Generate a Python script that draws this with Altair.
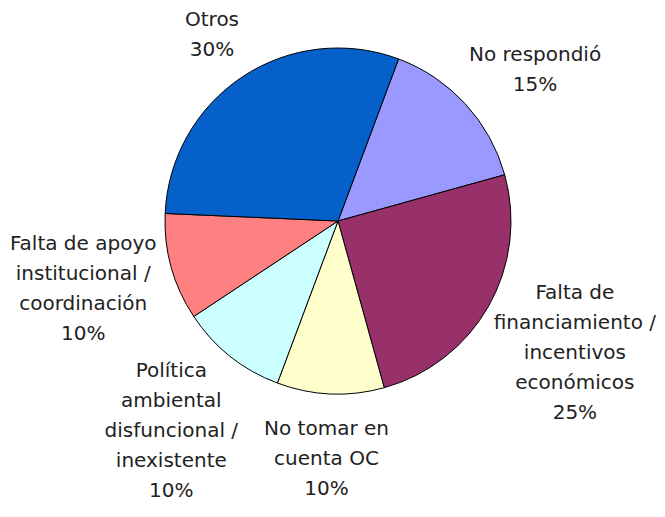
import math
import altair as alt
import pandas as pd

# ---- data ----
categories = [
    "No respondió",
    "Falta de financiamiento / incentivos económicos",
    "No tomar en cuenta OC",
    "Política ambiental disfuncional / inexistente",
    "Falta de apoyo institucional / coordinación",
    "Otros",
]
values = [15, 25, 10, 10, 10, 30]
label_lines = [
    ["No respondió"],
    ["Falta de", "financiamiento /", "incentivos", "económicos"],
    ["No tomar en", "cuenta OC"],
    ["Política", "ambiental", "disfuncional /", "inexistente"],
    ["Falta de apoyo", "institucional /", "coordinación"],
    ["Otros"],
]
colors = ["#9999FF", "#98306A", "#FFFFCC", "#CCFFFF", "#FF8080", "#0561C9"]

# ---- layout / style ----
R = 173
START = math.radians(20.5)
FONT = "DejaVu Sans"
FS = 20
LH = 30
GAP = 28                 # label distance beyond the pie edge
W, H = 600, 416          # plot area
PAD = {"left": 30, "top": 5, "right": 19, "bottom": 80}
PAGE_MARGIN = 8
CX = PAGE_MARGIN + PAD["left"] + W / 2     # pie centre on the page
CY = PAGE_MARGIN + PAD["top"] + H / 2
XMIN, XMAX = 9, 656                          # labels are kept inside the chart area

# approximate DejaVu Sans advance widths (em) for label placement
CW = {
    'a': .613, 'b': .635, 'c': .550, 'd': .635, 'e': .615, 'f': .352, 'g': .635,
    'h': .634, 'i': .278, 'j': .278, 'k': .579, 'l': .278, 'm': .974, 'n': .634,
    'o': .612, 'p': .635, 'q': .635, 'r': .411, 's': .521, 't': .392, 'u': .634,
    'v': .592, 'w': .818, 'x': .592, 'y': .592, 'z': .525, ' ': .318, '/': .337,
    '%': .950, 'F': .575, 'N': .748, 'O': .787, 'P': .603, 'C': .698, 'ó': .612,
    'í': .278,
}


def text_w(s):
    return sum(CW.get(ch, .636) for ch in s) * FS


total = sum(values)
rows = []
cum = 0
for i, (cat, v, lines) in enumerate(zip(categories, values, label_lines)):
    mid = START + 2 * math.pi * (cum + v / 2) / total
    cum += v
    all_lines = lines + [f"{v}%"]
    n = len(all_lines)
    w = max(text_w(s) for s in all_lines)
    h = (n - 1) * LH + 15
    s, c = math.sin(mid), -math.cos(mid)
    # block centre relative to the pie centre
    bx = (R + GAP) * s + (w / 2) * s
    by = (R + GAP) * c + (h / 2) * c
    # keep inside chart area horizontally
    bx = max(XMIN - CX + w / 2, min(XMAX - CX - w / 2, bx))
    # first-line anchor (text blocks grow downward from the first line)
    fx, fy = bx, by - (n - 1) * LH / 2
    rows.append({
        "idx": i, "category": cat, "value": v,
        "label": "\n".join(all_lines),
        "lt": math.atan2(fx, -fy),
        "lr": math.hypot(fx, fy),
    })

df = pd.DataFrame(rows)

theta_scale = alt.Scale(domain=[0, total], range=[START, START + 2 * math.pi])

pie = alt.Chart(df).mark_arc(outerRadius=R, stroke="black", strokeWidth=1).encode(
    theta=alt.Theta("value:Q", stack=True, scale=theta_scale),
    order=alt.Order("idx:Q"),
    color=alt.Color("category:N", scale=alt.Scale(domain=categories, range=colors),
                    legend=None),
)

labels = alt.Chart(df).mark_text(
    font=FONT, fontSize=FS, lineHeight=LH, lineBreak="\n",
    align="center", baseline="middle", color="#222222",
).encode(
    theta=alt.Theta("lt:Q", stack=None, scale=None),
    radius=alt.Radius("lr:Q", scale=None),
    text=alt.Text("label:N"),
)

chart = (
    alt.layer(pie, labels)
    .properties(
        width=W, height=H,
        padding=PAD,
        autosize=alt.AutoSizeParams(type="none"),
        background="white",
    )
    .configure_view(stroke=None)
)

chart.save("out.html", embed_options={"renderer": "svg", "actions": False})
